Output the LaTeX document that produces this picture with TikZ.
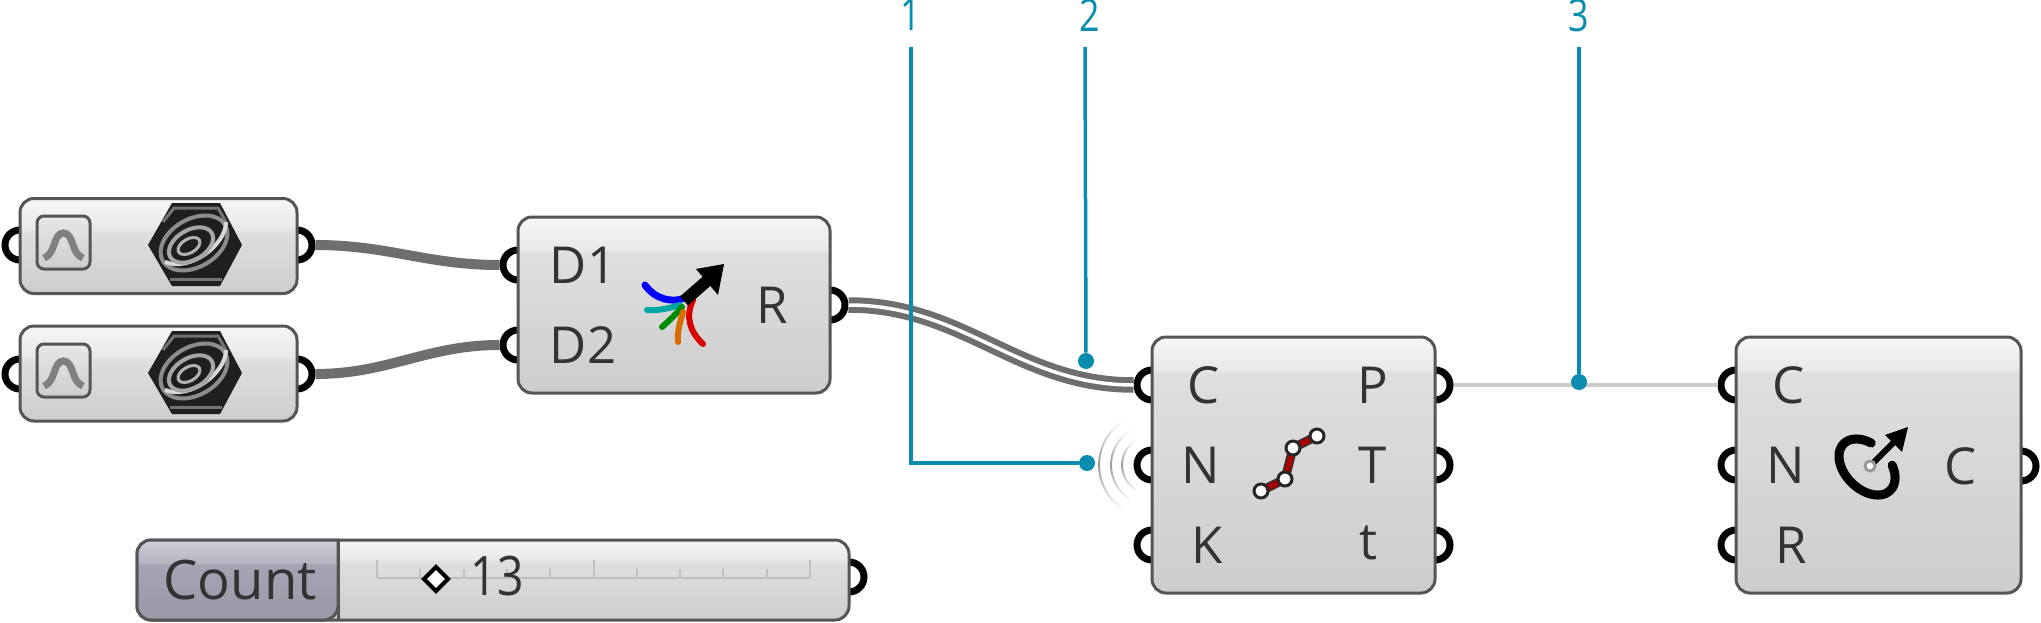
\documentclass[tikz,border=0pt]{standalone}
\usepackage{fontspec}
\setmainfont{Open Sans}
\usetikzlibrary{fadings}
\definecolor{comptop}{HTML}{F6F6F6}
\definecolor{compmid}{HTML}{E8E8E8}
\definecolor{compbrk}{HTML}{DFDFDF}
\definecolor{compbot}{HTML}{CDCDCD}
\definecolor{compedge}{HTML}{555555}
\definecolor{wiregray}{HTML}{6E6E6E}
\definecolor{leadblue}{HTML}{0A8CAE}
\definecolor{counttop}{HTML}{CFCFD8}
\definecolor{countmid}{HTML}{B4B4C0}
\definecolor{countbrk}{HTML}{A4A4B2}
\definecolor{countbot}{HTML}{9898A6}
\def\px{0.02cm}
\newcommand{\compshade}[2]{\pgfdeclareverticalshading{#1}{100bp}{color(0bp)=(compbot); color(25bp)=(compbot); color(#2bp)=(compbrk); color(#2.4bp)=(compmid); color(75bp)=(comptop); color(100bp)=(comptop)}}
\compshade{shadetall}{68}
\compshade{shademid}{65}
\compshade{shadelow}{58}
\compshade{shadeslider}{62}
\pgfdeclareverticalshading{shadecount}{100bp}{color(0bp)=(countbot); color(25bp)=(countbot); color(60bp)=(countbrk); color(60.4bp)=(countmid); color(75bp)=(counttop); color(100bp)=(counttop)}
\tikzfading[name=fade ends, top color=transparent!100, bottom color=transparent!100, middle color=transparent!0]
\tikzset{socket/.style = {draw, circle, fill=white, line width=7*\px, inner sep=0, minimum size=30*\px}}
\tikzset{comp/.style = {draw=compedge, line width=3*\px, rounded corners=14*\px, inner sep=0}}
\tikzset{port/.style = {font=\fontsize{29}{30}\selectfont, inner sep=0, text=black!80}}
\tikzset{wire/.style = {draw=wiregray, line width=10*\px}}
\tikzset{leader/.style = {draw=leadblue, line width=3.5*\px}}
\tikzset{leaddot/.style = {fill=leadblue, circle, inner sep=0, minimum size=16*\px}}
\tikzset{leadlabel/.style = {font=\fontsize{25.5}{27}\selectfont, text=leadblue, inner sep=0, xscale=0.8}}
\tikzset{ctrl/.style = {fill=white, draw=black!85, line width=3*\px, circle, inner sep=0, minimum size=14*\px}}
\begin{document}
\begin{tikzpicture}[x=0.02cm, y=-0.02cm]
  \useasboundingbox (0, 0) rectangle (2041, 622);
  % sockets sit under the boxes
  \foreach \name/\x/\y in {a/20/245, aout/297/245, b/20/374, bout/297/374,
                           dI/518/265, dII/518/345, dout/830/305,
                           cI/1152/385, cII/1152/465, cIII/1152/545,
                           cP/1435/385, cT/1435/465, ct/1435/545,
                           eI/1736/385, eII/1736/465, eIII/1736/545, eout/2021/466,
                           sout/849/577}
    \node (\name) at (\x, \y) [socket] {};

  \node (boxa) at (158.5, 246) [comp, shading=shadelow, minimum width=277*\px, minimum height=95*\px] {};
  \node (boxb) at (158.5, 373.5) [comp, shading=shadelow, minimum width=277*\px, minimum height=95*\px] {};
  \node (boxd) at (674, 305) [comp, shading=shademid, minimum width=312*\px, minimum height=176*\px] {};
  \node (boxc) at (1293.5, 465) [comp, shading=shadetall, minimum width=283*\px, minimum height=256*\px] {};
  \node (boxe) at (1878.5, 465) [comp, shading=shadetall, minimum width=285*\px, minimum height=256*\px] {};
  \node (boxs) at (493, 580) [comp, shading=shadeslider, minimum width=712*\px, minimum height=80*\px] {};

  % slider label part
  \path [draw=compedge, line width=3*\px, shading=shadecount, rounded corners=14*\px]
    (338, 540) -- (137, 540) -- (137, 620) -- (338, 620) [sharp corners] -- cycle;
  \draw [compedge, line width=3*\px] (338, 540) -- (338, 620);
  \node (cnt) at (240, 580) [port, font=\fontsize{31}{32}\selectfont] {Count};

  % slider rail
  \draw [black!25, line width=2*\px] (377, 578) -- (810, 578);
  \foreach \x/\h in {377/18, 420.3/9, 463.6/9, 506.9/9, 550.2/9, 593.5/18, 636.8/9, 680.1/9, 723.4/9, 766.7/9, 810/18}
    \draw [black!25, line width=2*\px] (\x, 578) -- (\x, 578 - \h);
  \draw [fill=white, line width=4*\px] (436, 567) -- (448, 579) -- (436, 591) -- (424, 579) -- cycle;
  \node (val) at (497, 576) [port, font=\fontsize{31}{32}\selectfont, xscale=0.85] {13};

  % parameter icons
  \foreach \yy in {0, 128} {
    \begin{scope}[yshift=-\yy*0.02cm]
      \draw [compedge, line width=3*\px, rounded corners=7*\px, top color=compmid, bottom color=compbot]
        (37, 216) rectangle (90, 269);
      \draw [black!50, line width=7*\px] (44, 258) .. controls (56, 254) and (53, 233) .. (63.5, 233) .. controls (74, 233) and (71, 254) .. (83, 258);
      \fill [black!88] (172, 203) -- (220, 203) -- (242, 245) -- (220, 286) -- (172, 286) -- (148, 245) -- cycle;
      \draw [black!55, line width=3*\px] (163, 222) -- (174, 208) -- (218, 208) -- (226, 222);
      \draw [black!55, line width=3*\px] (170, 279) -- (222, 279);
      \draw [black!45, line width=4*\px, rotate around={30:(194, 243)}] (194, 243) ellipse [x radius=36, y radius=24];
      \draw [white!85!black, line width=4*\px] (226, 222) .. controls (226, 245) and (190, 272) .. (165, 262);
      \draw [black!35, line width=4*\px, rotate around={30:(191, 245)}] (191, 245) ellipse [x radius=24, y radius=15];
      \draw [black!30, line width=3*\px, rotate around={30:(189, 246)}] (189, 246) ellipse [x radius=12, y radius=7];
    \end{scope}
  }

  % multi arrow icon
  \draw [blue, line width=7*\px, line cap=round] (645, 285) .. controls (655, 299) and (672, 304) .. (687, 297);
  \draw [teal!70!cyan, line width=6*\px, line cap=round] (647, 310) .. controls (658, 311) and (670, 308) .. (680, 305);
  \draw [green!55!black, line width=6*\px, line cap=round] (662, 327) .. controls (670, 320) and (676, 314) .. (682, 307);
  \draw [orange!85!black, line width=6*\px, line cap=round] (678, 342) .. controls (677, 332) and (680, 322) .. (683, 312);
  \draw [red!85!black, line width=6*\px, line cap=round] (703, 344) .. controls (690, 332) and (685, 317) .. (693, 300);
  \draw [line width=12*\px] (684, 301) -- (708, 280);
  \fill (696, 269) -- (724, 264) -- (718, 295) -- cycle;

  % polyline icon
  \coordinate (pI) at (1261, 491);
  \coordinate (pII) at (1285, 479);
  \coordinate (pIII) at (1293, 448);
  \coordinate (pIV) at (1317, 436);
  \draw [black!80, line width=9*\px] (pI) -- (pII) -- (pIII) -- (pIV);
  \draw [red!65!black, line width=6*\px] (pI) -- (pII) -- (pIII) -- (pIV);
  \node (nI) at (pI) [ctrl] {};
  \node (nII) at (pII) [ctrl] {};
  \node (nIII) at (pIII) [ctrl] {};
  \node (nIV) at (pIV) [ctrl] {};

  % circle icon
  \draw [line width=9*\px, line cap=round] plot [smooth, variable=\t, domain=-60:245, samples=30]
    ({1867 + 33*cos(\t)*cos(45) - 22*sin(\t)*sin(45)}, {467 + 33*cos(\t)*sin(45) + 22*sin(\t)*cos(45)});
  \draw [line width=6*\px] (1870, 466) -- (1895, 441);
  \fill (1885, 435) -- (1908, 427) -- (1902, 452) -- cycle;
  \node (cen) at (1870, 466) [ctrl, draw=black!40, minimum size=10*\px] {};

  % port labels
  \node (lDI) at (583, 265) [port] {D1};
  \node (lDII) at (583, 345) [port] {D2};
  \node (lR) at (772, 305) [port] {R};
  \node (lC) at (1204, 385) [port] {C};
  \node (lN) at (1201, 465) [port] {N};
  \node (lK) at (1207, 545) [port] {K};
  \node (lP) at (1373, 385) [port] {P};
  \node (lT) at (1373, 465) [port] {T};
  \node (lt) at (1368, 543) [port] {t};
  \node (mC) at (1789, 385) [port] {C};
  \node (mN) at (1786, 465) [port] {N};
  \node (mR) at (1791, 545) [port] {R};
  \node (mO) at (1961, 466) [port] {C};

  % wires
  \draw [wire] (aout) to [out=0, in=180] (dI);
  \draw [wire] (bout) to [out=0, in=180] (dII);
  \draw [draw=wiregray, line width=6*\px, double=white, double distance=3.5*\px] (dout) to [out=0, in=180] (cI);
  \draw [black!20, line width=4*\px] (cP) -- (eI);

  % ripples round the N input
  \foreach \r in {29, 40, 52}
    \draw [black!40, line width=2*\px, path fading=fade ends] (1151, 465) ++(120:\r) arc [start angle=120, end angle=240, radius=\r];

  % leaders
  \node (numI) at (911, 15) [leadlabel] {1};
  \node (numII) at (1090, 15) [leadlabel] {2};
  \node (numIII) at (1579, 15) [leadlabel] {3};
  \coordinate (topI) at (911, 47);
  \coordinate (topII) at (1085, 47);
  \coordinate (topIII) at (1579, 47);
  \node (dotI) at (1087, 463) [leaddot] {};
  \node (dotII) at (1086, 361) [leaddot] {};
  \node (dotIII) at (1579, 382) [leaddot] {};
  \draw [leader] (topI) |- (dotI);
  \draw [leader] (topII) -- (dotII);
  \draw [leader] (topIII) -- (dotIII);
\end{tikzpicture}
\end{document}
